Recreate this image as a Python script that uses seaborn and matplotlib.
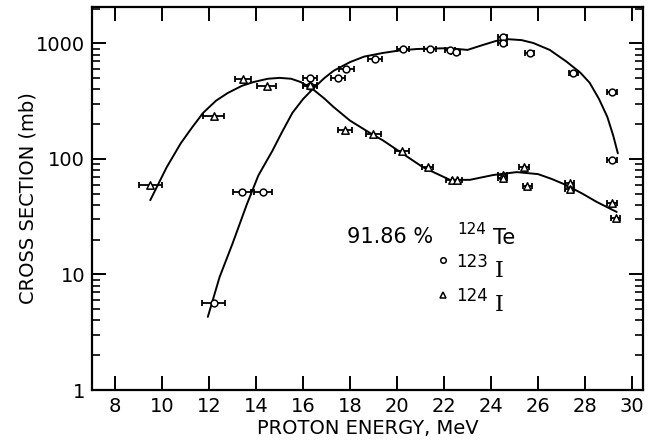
import numpy as np
import pandas as pd
import seaborn as sns
import matplotlib
matplotlib.use("Agg")
import matplotlib.pyplot as plt
from matplotlib.ticker import FixedLocator, LogLocator, NullFormatter

# ---- data ----
# 123I (circles)
circ_E = [12.2, 13.4, 14.3, 16.3, 16.3, 17.5, 17.85, 19.05, 20.25, 21.4, 22.25, 22.5,
          24.5, 24.5, 25.65, 27.5, 29.15, 29.15]
circ_val = [5.7, 52, 52, 500, 430, 500, 600, 735, 895, 890, 880, 840,
            1140, 1010, 830, 555, 380, 98]
circ_xerr = [0.48, 0.4, 0.4, 0.3, 0.3, 0.3, 0.3, 0.3, 0.25, 0.25, 0.2, 0.2,
             0.2, 0.2, 0.2, 0.2, 0.2, 0.2]

# 124I (triangles)
tri_E = [9.5, 12.2, 13.45, 14.45, 16.3, 17.8, 19.0, 20.2, 21.3, 22.35, 22.55,
         24.5, 24.5, 25.4, 25.55, 27.35, 27.35, 29.15, 29.3]
tri_val = [60, 236, 493, 430, 440, 180, 163, 118, 85, 66, 66,
           73, 69, 85, 58, 62, 55, 41.6, 30.8]
tri_xerr = [0.5, 0.45, 0.35, 0.4, 0.3, 0.3, 0.3, 0.3, 0.25, 0.25, 0.2,
            0.2, 0.2, 0.2, 0.2, 0.2, 0.2, 0.2, 0.2]

# hand-drawn fitted curves
circ_curve_E = [11.95, 12.45, 13.0, 13.6, 14.1, 14.7, 15.1, 15.55, 16.0, 16.45, 16.9, 17.3,
                18.0, 18.6, 19.4, 20.1, 20.85, 22.1, 22.6, 23.0, 23.65, 24.2, 24.7,
                25.3, 25.8, 26.5, 27.2, 27.8, 28.2, 28.6, 28.95, 29.2, 29.4]
circ_curve_val = [4.3, 9.5, 18.5, 40, 72, 118, 170, 251, 330, 410, 500, 580,
                  690, 770, 828, 870, 896, 910, 895, 880, 970, 1050, 1090,
                  1070, 1010, 880, 700, 560, 457, 330, 232, 160, 112]

tri_curve_E = [9.5, 10.2, 10.8, 11.3, 11.75, 12.3, 12.8, 13.4, 13.9, 14.5, 15.0, 15.5,
               15.9, 16.4, 16.9, 17.3, 18.0, 18.85, 19.4, 20.0, 21.1, 22.25, 23.1,
               24.1, 25.1, 26.0, 26.6, 27.2, 27.9, 28.5, 29.35]
tri_curve_val = [44, 85, 137, 190, 251, 320, 373, 430, 464, 495, 504, 495,
                 464, 405, 335, 282, 215, 168, 145, 120, 85, 66, 66,
                 72.7, 77, 74, 67, 59.5, 50, 42.5, 34.8]

xticks = [8, 10, 12, 14, 16, 18, 20, 22, 24, 26, 28, 30]
yticks = [1, 10, 100, 1000]
ytick_labels = ["1", "10", "100", "1000"]

# ---- plotting ----
sns.set_theme(style="ticks")
plt.rcParams["font.family"] = ["DejaVu Sans"]
plt.rcParams["text.color"] = "black"
plt.rcParams["axes.labelcolor"] = "black"
plt.rcParams["xtick.color"] = "black"
plt.rcParams["ytick.color"] = "black"

fig = plt.figure(figsize=(6.51, 4.47), dpi=100)
ax = fig.add_axes([92 / 651, 1 - 390 / 447, (643 - 92) / 651, (390 - 7) / 447])

sns.lineplot(x=circ_curve_E, y=circ_curve_val, sort=False, color="black", lw=1.4,
             ax=ax, estimator=None)
sns.lineplot(x=tri_curve_E, y=tri_curve_val, sort=False, color="black", lw=1.4,
             ax=ax, estimator=None)

ax.errorbar(circ_E, circ_val, xerr=circ_xerr, fmt="none", ecolor="black",
            elinewidth=1.3, capsize=2.5, capthick=1.3, zorder=3)
ax.errorbar(tri_E, tri_val, xerr=tri_xerr, fmt="none", ecolor="black",
            elinewidth=1.3, capsize=2.5, capthick=1.3, zorder=3)

sns.scatterplot(x=circ_E, y=circ_val, marker="o", s=24, facecolor="white",
                edgecolor="black", linewidth=1.1, ax=ax, zorder=4)
sns.scatterplot(x=tri_E, y=tri_val, marker="^", s=28, facecolor="white",
                edgecolor="black", linewidth=1.1, ax=ax, zorder=4)

ax.set_yscale("log")
ax.set_xlim(7.02, 30.47)
ax.set_ylim(1, 2070)

ax.xaxis.set_major_locator(FixedLocator(xticks))
ax.set_xticklabels([str(t) for t in xticks])
ax.yaxis.set_major_locator(FixedLocator(yticks))
ax.set_yticklabels(ytick_labels)
ax.yaxis.set_minor_locator(LogLocator(base=10, subs=np.arange(2, 10)))
ax.yaxis.set_minor_formatter(NullFormatter())

ax.tick_params(axis="both", which="major", direction="in", length=10, width=1.4,
               top=True, right=True, labelsize=14, colors="black", pad=5)
ax.tick_params(axis="y", which="minor", direction="in", length=6, width=1.2,
               right=True, left=True)
ax.tick_params(axis="x", which="minor", bottom=False, top=False)

for sp in ax.spines.values():
    sp.set_linewidth(1.6)
    sp.set_color("black")

ax.set_xlabel("PROTON ENERGY, MeV", fontsize=14, labelpad=2)
ax.set_ylabel("CROSS SECTION (mb)", fontsize=14, labelpad=-1)

# legend-like annotation
T = ax.transAxes
ax.text(0.541, 0.399, "91.86 %", transform=T, fontsize=15, ha="center", va="center")
ax.text(0.690, 0.420, "124", transform=T, fontsize=11, ha="center", va="center")
ax.text(0.748, 0.397, "Te", transform=T, fontsize=15, ha="center", va="center")
ax.plot([0.637], [0.339], transform=T, marker="o", ms=4, mfc="white", mec="black", mew=1.1)
ax.text(0.690, 0.334, "123", transform=T, fontsize=12, ha="center", va="center")
ax.text(0.739, 0.311, "I", transform=T, fontsize=16, ha="center", va="center",
        family=["DejaVu Serif"])
ax.plot([0.637], [0.247], transform=T, marker="^", ms=4, mfc="white", mec="black", mew=1.1)
ax.text(0.690, 0.245, "124", transform=T, fontsize=12, ha="center", va="center")
ax.text(0.739, 0.222, "I", transform=T, fontsize=16, ha="center", va="center",
        family=["DejaVu Serif"])

fig.savefig("out.png", dpi=100)
